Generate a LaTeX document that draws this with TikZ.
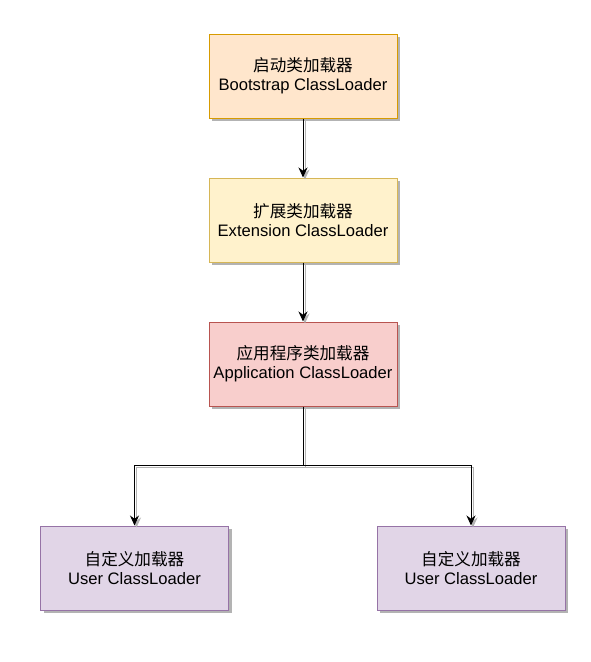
\documentclass[tikz,border=0pt]{standalone}
\usepackage{fontspec}
\setmainfont{Liberation Sans}
\newfontfamily\cjk{Noto Sans CJK SC}
\usetikzlibrary{arrows.meta}
\definecolor{orfill}{HTML}{FFE6CC}\definecolor{ordraw}{HTML}{D79B00}
\definecolor{yefill}{HTML}{FFF2CC}\definecolor{yedraw}{HTML}{D6B656}
\definecolor{rdfill}{HTML}{F8CECC}\definecolor{rddraw}{HTML}{B85450}
\definecolor{pufill}{HTML}{E1D5E7}\definecolor{pudraw}{HTML}{9673A6}
\definecolor{shade}{HTML}{B3B3B3}
\tikzset{
  box/.style={rectangle, minimum width=188pt, minimum height=84pt, line width=1pt, align=center,
    font=\fontsize{16.6}{19}\selectfont, inner sep=0pt,
    preaction={fill=shade, transform canvas={shift={(3pt,-3pt)}}}},
  conn/.style={line width=1pt, -{Stealth[length=10pt,width=9pt]},
    preaction={draw=shade, line width=1pt, transform canvas={shift={(2pt,-2pt)}}}},
  plain/.style={line width=1pt,
    preaction={draw=shade, line width=1pt, transform canvas={shift={(2pt,-2pt)}}}}
}
\begin{document}
\begin{tikzpicture}[x=1pt,y=-1pt]
\useasboundingbox (0,0) rectangle (590,662);
\node[box, fill=orfill, draw=ordraw] (boot) at (303,76) {{\cjk 启动类加载器}\\Bootstrap ClassLoader};
\node[box, fill=yefill, draw=yedraw] (ext) at (303,220) {{\cjk 扩展类加载器}\\Extension ClassLoader};
\node[box, fill=rdfill, draw=rddraw] (app) at (303,364) {{\cjk 应用程序类加载器}\\Application ClassLoader};
\node[box, fill=pufill, draw=pudraw] (u1) at (134.5,568) {{\cjk 自定义加载器}\\User ClassLoader};
\node[box, fill=pufill, draw=pudraw] (u2) at (471,568) {{\cjk 自定义加载器}\\User ClassLoader};
\coordinate (j) at (303,465.5);
\draw[conn] (boot) -- (ext);
\draw[conn] (ext) -- (app);
\draw[plain] (app.south) -- (j);
\draw[conn] (j) -| (u1.north);
\draw[conn] (j) -| (u2.north);
\end{tikzpicture}
\end{document}
